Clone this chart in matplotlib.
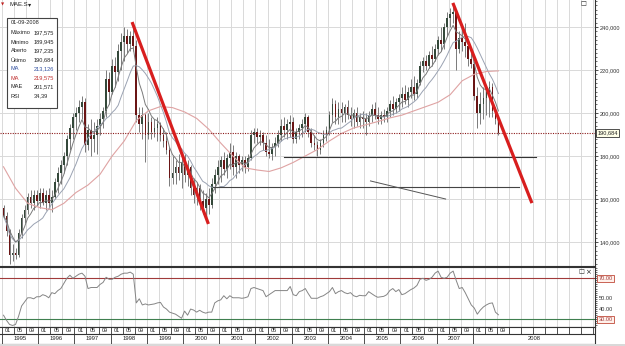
import numpy as np
import matplotlib
matplotlib.use("Agg")
import matplotlib.pyplot as plt
from matplotlib.patches import Rectangle
from matplotlib.ticker import FixedLocator, MultipleLocator, FuncFormatter
import matplotlib.transforms as mtrans

# ---------------- data (monthly, Jan 1995 .. Sep 2008, values in thousands) ----------------
years = list(range(1995, 2009))
month_labels = ["01", "05", "09"]

opens_k = [
    156, 152, 145, 134, 135, 134, 144, 151, 155, 161, 158, 162,
    159, 163, 158, 162, 158, 161, 168, 172, 176, 180, 188, 193,
    198, 200, 203, 205, 185, 192, 188, 190, 194, 197, 201, 216,
    210, 222, 219, 229, 233, 236, 232, 236, 231, 199, 195, 199,
    190, 196, 191, 193, 195, 190, 187, 183, 170, 172, 175, 172,
    177, 171, 175, 165, 162, 165, 159, 156, 160, 157, 167, 171,
    175, 178, 174, 179, 182, 175, 180, 176, 178, 175, 179, 190,
    191, 189, 190, 186, 182, 181, 184, 186, 190, 194, 192, 195,
    196, 188, 191, 193, 195, 198, 191, 186, 185, 183, 186, 190,
    192, 199, 204, 198, 202, 200, 203, 199, 197, 200, 196, 198,
    197, 196, 199, 202, 199, 197, 199, 198, 201, 204, 202, 205,
    207, 209, 206, 210, 212, 209, 214, 222, 224, 222, 227, 225,
    230, 234, 232, 240, 244, 246, 247, 230, 235, 233, 231, 225,
    223, 208, 200, 204, 207, 210, 212, 201, 197.235,
]
highs_k = [
    157, 154, 146, 139, 137, 146, 153, 157, 163, 164, 164, 164,
    165, 165, 164, 165, 164, 170, 175, 178, 182, 190, 195, 200,
    203, 206, 208, 207, 195, 197, 196, 197, 200, 203, 220, 219,
    225, 226, 232, 237, 240, 239, 238, 241, 234, 203, 203, 200,
    200, 198, 197, 198, 196, 193, 191, 184, 180, 178, 181, 180,
    181, 178, 176, 170, 168, 167, 164, 163, 165, 170, 174, 178,
    180, 182, 181, 186, 185, 182, 181, 180, 180, 181, 192, 193,
    193, 192, 191, 190, 188, 186, 189, 192, 197, 198, 197, 199,
    198, 193, 195, 197, 200, 199, 193, 190, 187, 188, 192, 194,
    201, 207, 206, 205, 205, 204, 206, 203, 202, 203, 200, 201,
    200, 201, 204, 205, 203, 201, 202, 203, 206, 208, 207, 209,
    212, 213, 212, 216, 217, 216, 224, 226, 227, 229, 231, 232,
    236, 240, 242, 247, 249, 251, 248, 238, 239, 242, 234, 228,
    224, 212, 210, 212, 213, 215, 214, 203, 197.575,
]
lows_k = [
    151, 143, 130, 131, 132, 133, 142, 149, 153, 156, 155, 157,
    156, 157, 155, 156, 154, 160, 163, 167, 172, 176, 183, 188,
    192, 196, 197, 182, 183, 180, 182, 181, 190, 193, 198, 204,
    209, 212, 215, 220, 224, 228, 229, 229, 196, 191, 188, 177,
    188, 188, 189, 187, 187, 184, 181, 166, 167, 167, 169, 165,
    168, 166, 162, 158, 157, 155, 153, 151, 153, 156, 163, 167,
    168, 171, 170, 174, 171, 170, 172, 173, 172, 173, 178, 186,
    186, 185, 183, 180, 179, 178, 180, 184, 187, 189, 188, 189,
    186, 186, 188, 189, 191, 189, 184, 183, 180, 181, 184, 187,
    190, 196, 195, 195, 196, 196, 197, 194, 193, 194, 193, 193,
    190, 194, 196, 197, 195, 195, 196, 196, 198, 199, 200, 201,
    203, 204, 203, 207, 206, 207, 213, 219, 220, 221, 222, 224,
    227, 229, 230, 236, 240, 242, 220, 228, 229, 226, 222, 221,
    206, 193, 195, 197, 199, 198, 198, 195, 189.945,
]
closes_k = [
    152, 145, 134, 135, 134, 144, 151, 155, 161, 158, 162, 159,
    163, 158, 162, 158, 161, 168, 172, 176, 180, 188, 193, 198,
    200, 203, 205, 185, 192, 188, 190, 194, 197, 201, 216, 210,
    222, 219, 229, 233, 236, 232, 236, 231, 199, 195, 199, 190,
    196, 191, 193, 195, 190, 187, 183, 170, 172, 175, 172, 177,
    171, 175, 165, 162, 165, 159, 156, 160, 157, 167, 171, 175,
    178, 174, 179, 182, 175, 180, 176, 178, 175, 179, 190, 191,
    189, 190, 186, 182, 181, 184, 186, 190, 194, 192, 195, 196,
    188, 191, 193, 195, 198, 191, 186, 185, 183, 186, 190, 192,
    199, 204, 198, 202, 200, 203, 199, 197, 200, 196, 198, 197,
    196, 199, 202, 199, 197, 199, 198, 201, 204, 202, 205, 207,
    209, 206, 210, 212, 209, 214, 222, 224, 222, 227, 225, 230,
    234, 232, 240, 244, 246, 247, 230, 235, 233, 231, 225, 223,
    208, 200, 204, 207, 210, 212, 201, 197, 190.684,
]

# long (red) moving average, every 4 months
ma_long_months = list(range(0, 165, 4))
ma_long_k = [
    175, 165, 158, 156, 155, 158, 163, 166.5, 171.5, 180, 187, 196.5,
    201, 203, 202.5, 200.5, 197.5, 192.5, 186, 180, 174.5, 173.5, 172.8,
    174.5, 177, 180, 183, 187, 190.5, 193, 194.5, 196, 197.7, 199, 201,
    203, 205, 208.5, 215, 218, 219.3, 219.6,
]

rsi_vals = [
    34, 29, 25, 24, 25, 33, 43, 47, 51, 51, 50, 52,
    52, 54, 53, 51, 56, 55, 58, 60, 65, 70, 73, 70,
    72, 74, 75, 72, 60, 61, 61, 61, 64, 66, 71, 69,
    69, 71, 72, 74, 75, 75, 76, 74, 46, 50, 44, 45,
    44, 44.5, 45, 46, 46.5, 42, 40, 37, 36, 35, 33, 31,
    38, 34, 40, 39, 37, 38.8, 37, 36, 37, 37, 46, 48,
    49, 53, 50, 53, 51, 51, 51, 50.5, 51, 52, 60, 61,
    60, 59, 58, 52, 54, 56, 58, 58, 58, 58, 58, 62,
    54, 53, 57, 58, 60, 55, 50.5, 50.5, 50.5, 52, 53, 55,
    57, 61, 55, 57, 58, 56, 55, 56, 53, 52, 53.4, 53,
    53, 57, 55, 53, 51.5, 52, 52.4, 54, 58, 60, 57, 59,
    54, 55, 57, 59, 60.5, 63, 69, 70, 68, 69, 71, 75,
    77, 71, 70, 71, 75, 77, 68, 60, 61, 56, 50, 44,
    41, 35, 39, 42, 44, 45.5, 46, 37, 34.39,
]

# drawn annotation lines (x in months since Jan 1995, y in index points)
trend1_x, trend1_y = [43.1, 68.4], [242300, 148400]
trend2_x, trend2_y = [149.4, 175.6], [251200, 158100]
support1_x, support1_y = [93.3, 176.9], [179500, 179500]
support2_x, support2_y = [70.0, 171.3], [165600, 165600]
diag_x, diag_y = [122.1, 147.0], [168400, 160000]

price_ticks = [140000, 160000, 180000, 200000, 220000, 240000]
rsi_ticks = [70, 50, 40, 30]
last_price = 190684

info_date = "01-09-2008"
info_names = ["Máximo", "Mínimo", "Aberto", "Último", "MA", "MA", "MAE", "RSI"]
info_values = ["197,575", "189,945", "197,235", "190,684", "213,126", "219,575", "201,571", "34,39"]
info_colors = ["#222222", "#222222", "#222222", "#222222", "#2f4f9f", "#c03030", "#222222", "#222222"]

# ---------------- figure ----------------
W, H = 625, 346
fig = plt.figure(figsize=(W / 100, H / 100), dpi=100)
fig.patch.set_facecolor("white")
FONT = ["Liberation Sans", "DejaVu Sans"]
SYM = ["DejaVu Sans"]


def fpos(x0, y0, x1, y1):
    return [x0 / W, 1 - y1 / H, (x1 - x0) / W, (y1 - y0) / H]


XMIN, XMAX = -0.66, 196.5
ax = fig.add_axes(fpos(0, 0, 595, 266))
axr = fig.add_axes(fpos(0, 267, 595, 327))
axb = fig.add_axes(fpos(0, 327, 595, 344))

opens = np.array(opens_k) * 1000
highs = np.array(highs_k) * 1000
lows = np.array(lows_k) * 1000
closes = np.array(closes_k) * 1000
n = len(closes)
xs = np.arange(n) + 0.5

grid_c = "#d9d9d9"
for a in (ax, axr):
    a.set_xlim(XMIN, XMAX)
    for k in range(0, 197, 4):
        a.axvline(k, color=grid_c, lw=0.7, zorder=0)
    a.set_xticks([])
    for s in ("left", "top"):
        a.spines[s].set_visible(False)
    a.spines["right"].set_color("#333333")
    a.spines["bottom"].set_color("#333333")
    a.spines["right"].set_linewidth(0.8)
    a.spines["bottom"].set_linewidth(0.8)
    a.yaxis.tick_right()
    a.tick_params(axis="y", which="major", length=2.0, width=0.6, color="#333333",
                  labelsize=4.1, labelcolor="#333333", pad=1.5)
    a.tick_params(axis="y", which="minor", length=1.2, width=0.5, color="#333333")
axr.spines["top"].set_visible(True)
axr.spines["top"].set_color("#333333")
axr.spines["top"].set_linewidth(0.8)

# main panel
ax.set_ylim(128841, 252558)
for v in price_ticks:
    ax.axhline(v, color=grid_c, lw=0.7, zorder=0)
ax.yaxis.set_major_locator(FixedLocator(price_ticks))
ax.yaxis.set_minor_locator(MultipleLocator(2000))
ax.yaxis.set_major_formatter(FuncFormatter(lambda v, p: f"{int(v):,}"))
for lab in ax.get_yticklabels():
    lab.set_family(FONT)

# candles
up = closes >= opens
ax.vlines(xs, lows, highs, color="#7a7a7a", lw=0.7, zorder=3)
body_h = np.maximum(np.abs(closes - opens), 400)
body_b = np.minimum(opens, closes)
ax.bar(xs[up], body_h[up], bottom=body_b[up], width=0.55, color="#34483a", lw=0, zorder=4)
ax.bar(xs[~up], body_h[~up], bottom=body_b[~up], width=0.55, color="#6a1515", lw=0, zorder=4)

# moving averages
ma12 = np.array([closes[max(0, i - 11):i + 1].mean() for i in range(n)])
mae = np.empty(n)
alpha = 2 / 7
mae[0] = closes[0]
for i in range(1, n):
    mae[i] = alpha * closes[i] + (1 - alpha) * mae[i - 1]
ax.plot(xs, ma12, color="#9aa2b2", lw=0.7, zorder=5)
ax.plot(xs, mae, color="#7a7a7a", lw=0.7, zorder=5)
ax.plot(np.array(ma_long_months) + 0.5, np.array(ma_long_k) * 1000, color="#dfa3a3", lw=0.8, zorder=5)

# annotation lines
ax.plot(support1_x, support1_y, color="#333333", lw=0.8, zorder=6)
ax.plot(support2_x, support2_y, color="#444444", lw=0.8, zorder=6)
ax.plot(diag_x, diag_y, color="#555555", lw=0.7, zorder=6)
ax.plot(trend1_x, trend1_y, color="#d81e1e", lw=2.3, solid_capstyle="butt", zorder=7)
ax.plot(trend2_x, trend2_y, color="#d81e1e", lw=2.3, solid_capstyle="butt", zorder=7)

# last price line + label
ax.axhline(last_price, color="#8b1a1a", lw=0.8, ls=(0, (1, 1.2)), zorder=6)
bt = mtrans.blended_transform_factory(ax.transAxes, ax.transData)
ax.text(1.004, last_price, f"{last_price:,}", transform=bt, fontsize=4.1, family=FONT,
        va="center", ha="left", color="#222222", clip_on=False,
        bbox=dict(boxstyle="square,pad=0.25", fc="#ffffe8", ec="#333333", lw=0.6))

# RSI panel
axr.set_ylim(22.5, 81.0)
axr.yaxis.set_major_locator(FixedLocator([]))
axr.yaxis.set_minor_locator(MultipleLocator(2))
axr.axhline(70, color="#a03a3a", lw=0.8, zorder=2)
axr.axhline(30, color="#3f7f4f", lw=0.8, zorder=2)
axr.plot(xs, rsi_vals, color="#858585", lw=0.7, zorder=3)
bt2 = mtrans.blended_transform_factory(axr.transAxes, axr.transData)
for v in rsi_ticks:
    if v in (70, 30):
        axr.text(1.006, v, f"{v:.2f}", transform=bt2, fontsize=4.1, family=FONT, va="center",
                 ha="left", color="#a03a3a", clip_on=False,
                 bbox=dict(boxstyle="square,pad=0.2", fc="#fff0ea", ec="#c04a3a", lw=0.6))
    else:
        axr.text(1.006, v, f"{v:.2f}", transform=bt2, fontsize=4.1, family=FONT, va="center",
                 ha="left", color="#333333", clip_on=False)

# bottom date axis
axb.set_xlim(XMIN, XMAX)
axb.set_ylim(0, 17)
axb.set_xticks([])
axb.set_yticks([])
for s in axb.spines.values():
    s.set_color("#333333")
    s.set_linewidth(0.8)
axb.spines["left"].set_visible(False)
axb.axhline(10, color="#333333", lw=0.8)
for k in range(0, 197, 4):
    axb.plot([k, k], [10, 17], color="#333333", lw=0.6)
for i, yv in enumerate(years):
    x0 = 12 * i
    axb.plot([x0, x0], [0, 10], color="#333333", lw=0.6)
    for j, ml in enumerate(month_labels):
        axb.text(x0 + 4 * j + 2, 13.4, ml, fontsize=4.0, family=FONT, ha="center", va="center",
                 color="#222222")
    xc = x0 + 6 if yv != years[-1] else (x0 + XMAX) / 2
    axb.text(xc, 5, str(yv), fontsize=4.2, family=FONT, ha="center", va="center", color="#222222")

# gray strip at bottom
fig.add_artist(Rectangle((0, 0), 1, 2 / H, transform=fig.transFigure, fc="#d9d9d9", ec="none"))

# info box
bx0, by0, bx1, by1 = 7, 18, 57, 108
fig.add_artist(Rectangle((bx0 / W, 1 - by1 / H), (bx1 - bx0) / W, (by1 - by0) / H,
                         transform=fig.transFigure, fc="white", ec="#444444", lw=0.8, zorder=20))
fig.text(10.5 / W, 1 - 23 / H, info_date, fontsize=4.1, family=FONT, va="center", ha="left",
         color="#222222", zorder=21)
for i, (nm, vl, cl) in enumerate(zip(info_names, info_values, info_colors)):
    yy = 33 + i * 9.0
    fig.text(10.5 / W, 1 - yy / H, nm, fontsize=4.1, family=FONT, va="center", ha="left", color=cl, zorder=21)
    fig.text(33.5 / W, 1 - yy / H, vl, fontsize=4.1, family=FONT, va="center", ha="left", color=cl, zorder=21)

# header label
fig.text(1 / W, 1 - 5 / H, "▼", fontsize=3.0, family=SYM, color="#c02020", va="center", ha="left")
fig.text(9 / W, 1 - 5 / H, "MAE.S", fontsize=4.3, family=FONT, color="#222222", va="center", ha="left")
fig.text(28 / W, 1 - 5 / H, "▾", fontsize=4.5, family=SYM, color="#222222", va="center", ha="left")
# panel icons
fig.text(580 / W, 1 - 4 / H, "□", fontsize=4.5, family=SYM, color="#222222", va="center", ha="left")
fig.text(578 / W, 1 - 272 / H, "□", fontsize=4.5, family=SYM, color="#222222", va="center", ha="left")
fig.text(585 / W, 1 - 272 / H, "×", fontsize=5, family=SYM, color="#222222", va="center", ha="left")

fig.savefig("out.png", dpi=100)
